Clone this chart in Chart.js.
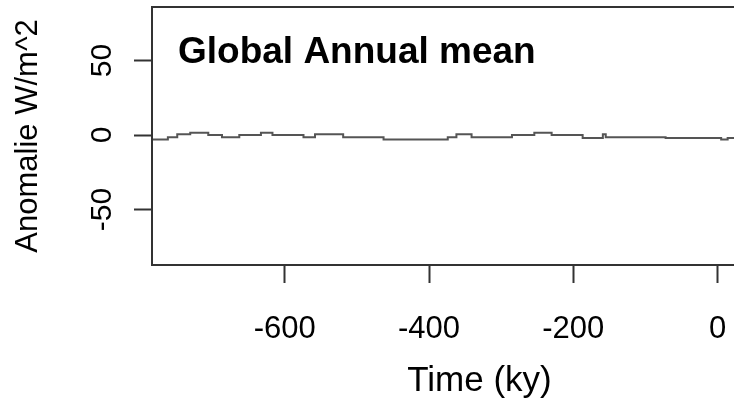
<!DOCTYPE html>
<html>
<head>
<meta charset="utf-8">
<script src="https://cdn.jsdelivr.net/npm/chart.js@4/dist/chart.umd.min.js"></script>
<style>
  html, body { margin: 0; padding: 0; background: #fff; overflow: hidden; }
  #wrap { position: relative; width: 807px; height: 403px; }
</style>
</head>
<body>
<div id="wrap"><canvas id="c"></canvas></div>
<script>
// Data (time in ky, anomaly in W/m^2), step series
const times = [-784, -762, -749, -731, -706, -687, -663, -633, -617, -574, -558, -519, -463, -374, -362, -341, -285, -254, -230, -187, -159, -155, -72, 5, 14, 18, 124];
const anomaly = [-1.5, -3, -1.5, 0.5, 1.5, 0, -1.5, 0, 1.5, 0, -1.5, 0.5, -1.5, -3, -1.5, 0.5, -1.5, 0, 1.5, 0, -2, 0.5, -1.5, -2, -3, -2, -2];
const xTicks = [-600, -400, -200, 0];
const yTicks = [-50, 0, 50];
const plotTitle = "Global Annual mean";
const xLabel = "Time (ky)";
const yLabel = "Anomalie W/m^2";

const FONT = "'Liberation Sans', Arial, sans-serif";
const AXIS = '#333333';

const boxPlugin = {
  id: 'boxAndText',
  afterDraw(chart) {
    const {ctx, chartArea: a} = chart;
    ctx.save();
    ctx.strokeStyle = AXIS;
    ctx.lineWidth = 2;
    ctx.strokeRect(a.left, a.top, a.right - a.left, a.bottom - a.top);
    ctx.fillStyle = '#000';
    ctx.font = "bold 37px " + FONT;
    ctx.textBaseline = 'alphabetic';
    ctx.textAlign = 'left';
    ctx.fillText(plotTitle, a.left + 26, a.top + 56);
    ctx.restore();
  }
};

new Chart(document.getElementById('c'), {
  type: 'line',
  data: {
    datasets: [{
      data: times.map((t, i) => ({x: t, y: anomaly[i]})),
      stepped: 'after',
      borderColor: '#555555',
      borderWidth: 2,
      pointRadius: 0,
      fill: false
    }]
  },
  options: {
    responsive: true,
    maintainAspectRatio: false,
    animation: false,
    layout: { padding: { top: 7, left: 0, right: 0, bottom: 0 } },
    plugins: { legend: { display: false }, tooltip: { enabled: false }, title: { display: false } },
    scales: {
      x: {
        type: 'linear',
        min: -784,
        max: 124,
        afterBuildTicks: s => { s.ticks = xTicks.map(v => ({value: v})); },
        afterFit: s => { s.height = 138; s.paddingLeft = 0; s.paddingRight = 0; },
        grid: { drawOnChartArea: false, drawTicks: true, tickLength: 18, tickColor: AXIS, tickWidth: 2 },
        border: { display: true, color: AXIS, width: 2 },
        ticks: { color: '#000', font: { family: FONT, size: 31, lineHeight: 1 }, padding: 31, maxRotation: 0, autoSkip: false },
        title: { display: true, text: xLabel, color: '#000', font: { family: FONT, size: 35, lineHeight: 1.2 }, padding: { top: 0, bottom: 1 } }
      },
      y: {
        type: 'linear',
        min: -87.2,
        max: 85.9,
        afterBuildTicks: s => { s.ticks = yTicks.map(v => ({value: v})); },
        afterFit: s => { s.width = 152; s.paddingTop = 0; s.paddingBottom = 0; },
        grid: { drawOnChartArea: false, drawTicks: true, tickLength: 18, tickColor: AXIS, tickWidth: 2 },
        border: { display: true, color: AXIS, width: 2 },
        ticks: { color: '#000', font: { family: FONT, size: 30, lineHeight: 1 }, padding: 10, minRotation: 90, maxRotation: 90, crossAlign: 'center', autoSkip: false },
        title: { display: true, text: yLabel, color: '#000', font: { family: FONT, size: 31, lineHeight: 1.2 }, padding: { top: 10, bottom: 0 } }
      }
    }
  },
  plugins: [boxPlugin]
});
</script>
</body>
</html>
